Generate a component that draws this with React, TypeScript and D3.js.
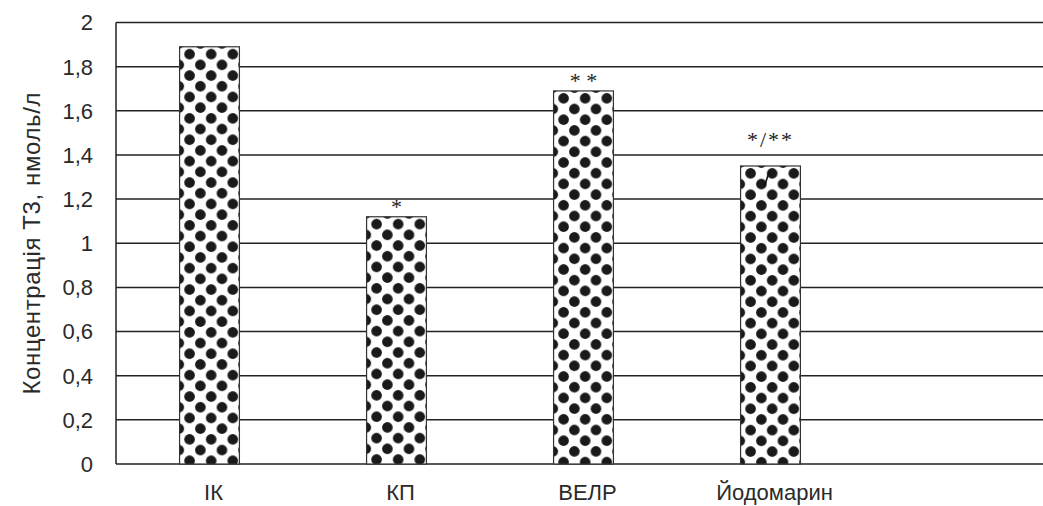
import React from "react";
import * as d3 from "d3";

const categories = ["ІК", "КП", "ВЕЛР", "Йодомарин", ""];
const values = [1.89, 1.12, 1.69, 1.35];
const marks = ["", "*", "* *", "*/**"];
const yTicks = [0, 0.2, 0.4, 0.6, 0.8, 1, 1.2, 1.4, 1.6, 1.8, 2];
const yTitle = "Концентрація Т3, нмоль/л";

const W = 1043;
const H = 506;
const left = 116;
const top = 22.5;
const bottom = 464;

export default function App() {
  const x = d3
    .scaleBand<string>()
    .domain(categories)
    .range([left, 1051])
    .paddingInner(0.68)
    .paddingOuter(0.34);
  const y = d3.scaleLinear().domain([0, 2]).range([bottom, top]);
  const fmt = (v: number) => d3.format(".1~f")(v).replace(".", ",");
  const font = "'Liberation Sans', Arial, sans-serif";
  const bw = x.bandwidth();

  return (
    <svg
      width={W}
      height={H}
      style={{ position: "absolute", left: 0, top: 0, background: "#fff" }}
    >
      <defs>
        {values.map((v, i) => {
          const bx = x(categories[i])!;
          const by = y(v);
          return (
            <pattern
              key={i}
              id={`dots-${i}`}
              patternUnits="userSpaceOnUse"
              x={bx + 4.6}
              y={by + 2}
              width={21.6}
              height={21.4}
            >
              <circle cx={5.4} cy={5.35} r={5.3} fill="#1a1a1a" />
              <circle cx={16.2} cy={16.05} r={5.3} fill="#1a1a1a" />
            </pattern>
          );
        })}
      </defs>

      {/* gridlines */}
      {yTicks.map((t) => (
        <line
          key={t}
          x1={left}
          x2={W}
          y1={y(t)}
          y2={y(t)}
          stroke="#222"
          strokeWidth={1.5}
        />
      ))}
      {/* y axis */}
      <line x1={left} x2={left} y1={top} y2={bottom} stroke="#222" strokeWidth={1.5} />

      {/* tick labels */}
      {yTicks.map((t) => (
        <text
          key={"l" + t}
          x={93}
          y={y(t)}
          dy="0.36em"
          textAnchor="end"
          fontFamily={font}
          fontSize={22}
          fill="#2a2a2a"
        >
          {fmt(t)}
        </text>
      ))}

      {/* bars */}
      {values.map((v, i) => {
        const bx = x(categories[i])!;
        return (
          <g key={"b" + i}>
            <rect x={bx} y={y(v)} width={bw} height={y(0) - y(v)} fill="#fff" />
            <rect
              x={bx}
              y={y(v)}
              width={bw}
              height={y(0) - y(v)}
              fill={`url(#dots-${i})`}
              stroke="#333"
              strokeWidth={1.2}
            />
          </g>
        );
      })}

      {/* significance marks */}
      {marks.map((m, i) =>
        m ? (
          <text
            key={"m" + i}
            x={x(categories[i])! + bw / 2}
            y={y(values[i]) - (m.includes("/") ? 19 : 3)}
            textAnchor="middle"
            fontFamily="'Liberation Serif', 'Times New Roman', serif"
            fontSize={22}
            letterSpacing={m.includes("/") ? 2 : 0}
            fill="#222"
          >
            {m}
          </text>
        ) : null
      )}
      {/* stray slash inside the last bar */}
      <line
        x1={x(categories[3])! + bw / 2 - 6}
        y1={y(values[3]) + 20}
        x2={x(categories[3])! + bw / 2 - 1}
        y2={y(values[3]) + 5}
        stroke="#111"
        strokeWidth={1.6}
      />

      {/* category labels */}
      {categories
        .filter((c) => c)
        .map((c) => (
          <text
            key={c}
            x={x(c)! + bw / 2 + 4}
            y={500}
            textAnchor="middle"
            fontFamily={font}
            fontSize={22}
            fill="#2a2a2a"
          >
            {c}
          </text>
        ))}

      {/* y title */}
      <text
        transform={`translate(40, ${(top + bottom) / 2}) rotate(-90)`}
        textAnchor="middle"
        fontFamily={font}
        fontSize={24}
        letterSpacing={0.6}
        fill="#2a2a2a"
      >
        {yTitle}
      </text>
    </svg>
  );
}
